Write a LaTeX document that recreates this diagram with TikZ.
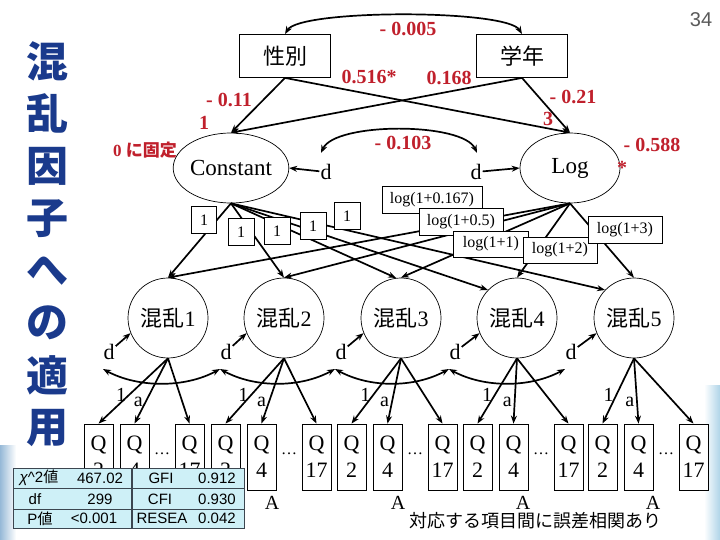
\documentclass[tikz,border=0pt]{standalone}
\usepackage{fontspec}
\setmainfont{Liberation Serif}
\newfontfamily\jp{Noto Sans CJK JP}
\newfontfamily\sansf{Liberation Sans}
\usetikzlibrary{shapes.geometric,arrows.meta}
\definecolor{lblred}{RGB}{192,32,44}
\definecolor{ttlblue}{RGB}{26,58,140}
\definecolor{tblcyan}{RGB}{206,240,247}
\definecolor{tblline}{RGB}{60,70,80}
\definecolor{pggrey}{RGB}{90,90,90}
\newcommand\fsz[1]{\fontsize{#1}{#1}\selectfont}
\begin{document}
\begin{tikzpicture}[x=1pt,y=-1pt,
  arr/.style={line width=1.7pt, -{Stealth[length=8pt,width=6pt]}},
  darr/.style={line width=1.7pt, {Stealth[length=8pt,width=6pt]}-{Stealth[length=8pt,width=6pt]}},
  lbl/.style={text=lblred, font=\bfseries\fsz{20}, inner sep=1pt},
  obs/.style={draw, line width=0.8pt, fill=white, inner sep=0pt, minimum width=91pt, minimum height=43pt, font=\jp\fsz{22}},
  lat/.style={circle, draw, line width=0.7pt, minimum size=80pt, inner sep=0pt, font=\fsz{22}},
  ell/.style={ellipse, draw, line width=0.7pt, minimum width=100pt, minimum height=70pt, inner sep=0pt, font=\fsz{23}},
  parbox/.style={draw, line width=0.8pt, fill=white, inner sep=0pt, minimum height=27pt, font=\fsz{16}},
  qbox/.style={draw, line width=0.8pt, fill=white, minimum width=29pt, minimum height=66pt, inner sep=0pt, align=center, font=\fontsize{22}{27}\selectfont},
  dlab/.style={font=\fsz{22}, inner sep=1pt},
  ttl/.style={font=\jp\bfseries\fsz{42}, text=ttlblue, inner sep=0pt},
  tcell/.style={font=\sansf\fsz{15}, inner sep=0pt},
  smallab/.style={font=\fsz{20}, inner sep=2pt}
]
\fill[white] (0,0) rectangle (720,540);
\useasboundingbox (0,0) rectangle (720,540);
% slide edge decorations
\shade[left color={rgb,255:red,150;green,185;blue,215}, right color=white] (0,445) rectangle (16,540);
\shade[left color=white, right color={rgb,255:red,175;green,212;blue,232}] (704,385) rectangle (720,540);

% title
\foreach \c [count=\i from 0] in {混,乱,因,子,へ,の,適,用}
  \node[ttl] (title\i) at (48,61.5+52.3*\i) {\c};
\node[font=\sansf\fsz{20}, text=pggrey] (pagenum) at (701,20) {34};

% top observed variables
\node[obs] (sx) at (285,56) {性別};
\node[obs] (gy) at (522,56) {学年};
\node[ell] (C) at (231,168) {Constant};
\node[ell] (L) at (570,168) {Log};
\node[dlab] (dC) at (326,172) {d};
\node[dlab] (dL) at (476,172) {d};
\coordinate (tc1) at (321,153);
\coordinate (tc2) at (477,153);

\draw[darr] (sx.north) .. controls +(15,-25) and +(-15,-25) .. (gy.north);
\draw[arr] (sx.south) -- (C.north);
\draw[arr] (sx.south) -- (L.north);
\draw[arr] (gy.south) -- (C.north);
\draw[arr] (gy.south) -- (L.north);
\draw[darr] (tc1) .. controls +(14,-31) and +(-14,-31) .. (tc2);
\draw[arr] (dC) -- (C.east);
\draw[arr] (dL) -- (L.west);

% red labels
\node[lbl] (l005) at (408,29) {- 0.005};
\node[lbl] (l516) at (369,77) {0.516*};
\node[lbl] (l168) at (449,78) {0.168};
\node[lbl] (l011) at (229,100) {- 0.11};
\node[lbl] (l021) at (573,97) {- 0.21};
\node[lbl] (lone) at (204,123) {1};
\node[lbl] (lthree) at (548,119) {3};
\node[lbl] (l103) at (403,143) {- 0.103};
\node[lbl] (l588) at (652,145) {- 0.588};
\node[lbl] (lstar) at (622,168) {*};
\node[text=lblred, font=\bfseries\fsz{17}, inner sep=0pt] (fix0) at (145,150) {0 {\jp に固定}};

% latent confounders, observed items
\foreach \k/\cx/\dx/\L in {1/168/109/84, 2/284/226/211, 3/401/341/337, 4/517/455/463, 5/634/571/588} {
  \node[lat] (m\k) at (\cx,318) {{\jp 混乱}\k};
  \node[dlab] (d\k) at (\dx,352) {d};
  \coordinate (e\k) at (\dx-6,369);
  \node[qbox] (q\k a) at (\L+14.5,457) {Q\\2};
  \node[qbox] (q\k b) at (\L+50.5,457) {Q\\4};
  \node[qbox] (q\k c) at (\L+105.5,457) {Q\\17};
  \node[font=\fsz{16}, inner sep=0pt] (dots\k) at (\L+78,454) {…};
  \draw[arr] (d\k) -- (m\k.202);
  \draw[arr] (m\k.south) -- node[pos=0.56, left=0pt, smallab] (one\k) {1} (q\k a.north);
  \draw[arr] (m\k.south) -- node[pos=0.67, left=0pt, smallab] (ea\k) {a} (q\k b.north);
  \draw[arr] (m\k.south) -- (q\k c.north);
}
\foreach \a/\b in {1/2,2/3,3/4,4/5}
  \draw[darr] (e\a) .. controls +(35,19) and +(-35,19) .. (e\b);

% paths from Constant and Log
\draw[arr] (C.south) -- (m1.north);
\draw[arr] (C.south) -- (m2.north);
\draw[arr] (C.south) -- (m3.97);
\draw[arr] (C.south) -- (m4.136);
\draw[arr] (C.south) -- (m5.136);
\foreach \k in {1,...,5}
  \draw[arr] (L.south) -- (m\k.north);

% parameter boxes
\node[parbox, minimum width=25pt] (p1) at (204,220) {1};
\node[parbox, minimum width=26pt] (p2) at (241,232) {1};
\node[parbox, minimum width=26pt] (p3) at (277,231) {1};
\node[parbox, minimum width=26pt] (p4) at (313,226) {1};
\node[parbox, minimum width=26pt] (p5) at (347,216) {1};
\node[parbox, minimum width=100pt] (g1) at (432,200) {log(1+0.167)};
\node[parbox, minimum width=84pt] (g2) at (461,222) {log(1+0.5)};
\node[parbox, minimum width=75pt, minimum height=26pt] (g3) at (491,244) {log(1+1)};
\node[parbox, minimum width=74pt, minimum height=26pt] (g4) at (560,250) {log(1+2)};
\node[parbox, minimum width=74pt] (g5) at (625,230) {log(1+3)};

% A labels and note
\foreach \k/\ax in {2/272,3/398,4/523,5/653}
  \node[font=\fsz{20}, inner sep=0pt] (A\k) at (\ax,503) {A};
\node[font=\jp\fsz{18}, inner sep=0pt] (note) at (535,521) {対応する項目間に誤差相関あり};

% fit table
\fill[tblcyan] (13,468) rectangle (244,528);
\draw[tblline, line width=0.9pt] (13,468) rectangle (244,528);
\draw[tblline, line width=0.9pt] (13,488.5) -- (244,488.5);
\draw[tblline, line width=0.9pt] (13,509) -- (244,509);
\draw[tblline, line width=1.2pt] (132,468) -- (132,528);
\node[tcell] (t1) at (39,478) {{\itshape χ}\textasciicircum 2{\jp 値}};
\node[tcell] (t2) at (100,478) {467.02};
\node[tcell] (t3) at (35,499) {df};
\node[tcell] (t4) at (100,499) {299};
\node[tcell] (t5) at (40,518.5) {P{\jp 値}};
\node[tcell] (t6) at (94,518.5) {<0.001};
\node[tcell] (t7) at (161,478) {GFI};
\node[tcell] (t8) at (217,478) {0.912};
\node[tcell] (t9) at (160,499) {CFI};
\node[tcell] (t10) at (217,499) {0.930};
\node[tcell] (t11) at (162,518.5) {RESEA};
\node[tcell] (t12) at (217,518.5) {0.042};
\end{tikzpicture}
\end{document}
